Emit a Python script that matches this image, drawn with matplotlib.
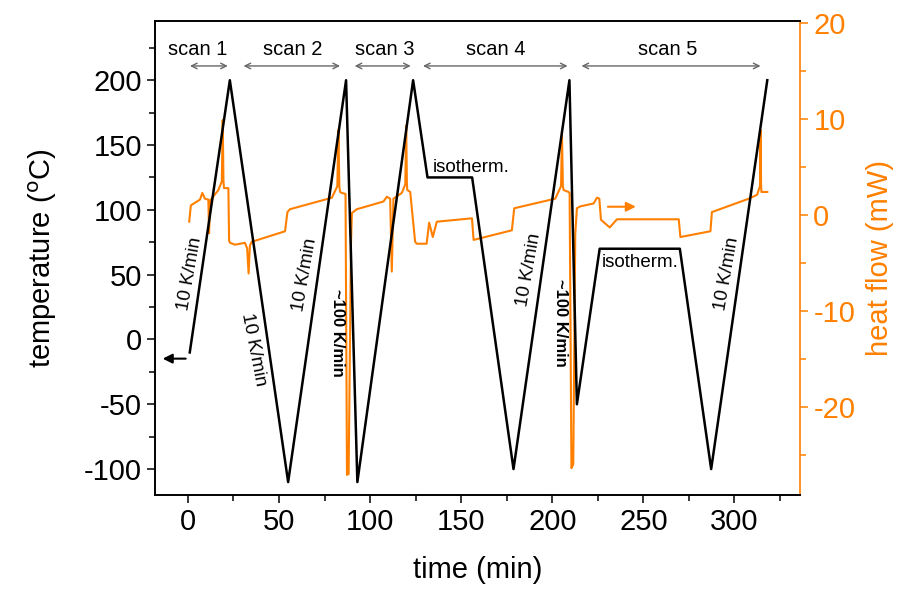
import matplotlib
matplotlib.use("Agg")
import matplotlib.pyplot as plt
from matplotlib.ticker import MultipleLocator

plt.rcParams['font.family'] = ['Liberation Sans', 'DejaVu Sans']
plt.rcParams['axes.unicode_minus'] = False

ORANGE = '#FF8000'

# temperature programme (black, left axis)
temp_time = [1, 23, 55, 86.8, 93, 123.6, 131.5, 156, 178.7, 209.4, 213.5, 226, 270, 287.2, 318]
temp_vals = [-10, 200, -110, 200, -110, 200, 125, 125, -100, 200, -50, 70, 70, -100, 200]

# heat flow (orange, right axis)
hf_time = [0.7, 1.6, 6.6, 7.9, 9.3, 11.2, 11.6, 12.1, 13, 16.7, 18.6, 19.1, 19.5, 19.8, 22.2,
           22.6, 23.1, 25.8, 31.3, 32.5, 33.3, 34, 35, 53.3, 54.6, 56, 79, 82, 82.6, 83.1,
           83.5, 84.4, 86.5, 87.3, 88.2, 89.5, 90, 92.7, 107.3, 109.2, 111, 111.9, 112.8,
           117.4, 119.3, 119.8, 120.2, 120.4, 122, 124.7, 125.6, 131, 132.4, 134.4, 136.6,
           155.9, 156.8, 177.8, 179.1, 201.6, 204.8, 205.3, 205.8, 206.2, 208.9, 209.5,
           210.5, 211.5, 212.6, 213.5, 215.4, 222.7, 224.5, 225.8, 226.7, 231.5, 235.5,
           269.4, 270.3, 286.8, 287.6, 307.9, 312.4, 314, 314.3, 314.6, 314.8, 318]
hf_vals = [-0.7, 1.0, 1.6, 2.3, 1.7, 1.6, -1.9, 1.5, 1.7, 2.6, 3.5, 9.9, 3.5, 2.8, 2.8,
           -2.7, -2.9, -3.1, -2.9, -3.5, -6.1, -3.2, -2.8, -1.7, 0.3, 0.6, 1.8, 3.0, 8.85, 3.0,
           2.4, 2.3, 2.2, -27.1, -27.0, -3.0, 0.2, 0.6, 1.4, 1.9, 1.7, -5.9, 1.7,
           2.3, 3.2, 9.3, 3.2, 2.6, 2.4, -2.8, -3.0, -3.0, -0.8, -2.3, -0.7,
           -0.35, -2.6, -1.6, 0.7, 1.7, 3.0, 8.7, 3.0, 2.6, 2.4, 2.3,
           -26.4, -26.0, -2.0, 0.7, 0.9, 1.2, 1.8, 1.7, -0.5, -1.3, -0.45,
           -0.45, -2.3, -1.7, 0.3, 1.7, 2.1, 3.0, 8.85, 3.0, 2.4, 2.4]

scan_labels = ['scan 1', 'scan 2', 'scan 3', 'scan 4', 'scan 5']
scan_text_t = [5.5, 57.4, 108, 169, 263.5]
scan_start = [-0.4, 29, 90, 127.5, 214.5]
scan_end = [23.4, 85, 123.8, 209.9, 315.8]

fig, ax = plt.subplots(figsize=(9.02, 5.9), dpi=100)
fig.subplots_adjust(left=0.172, right=0.887, bottom=0.161, top=0.964)
ax2 = ax.twinx()

ax.plot(temp_time, temp_vals, color='black', lw=1.8, zorder=3)
ax2.plot(hf_time, hf_vals, color=ORANGE, lw=1.5)
ax.set_zorder(ax2.get_zorder() + 1)
ax.patch.set_visible(False)

ax.set_xlim(-18, 336)
ax.set_ylim(-120, 245.5)
ax2.set_ylim(-29.2, 20.2)

ax.xaxis.set_major_locator(MultipleLocator(50))
ax.xaxis.set_minor_locator(MultipleLocator(25))
ax.yaxis.set_major_locator(MultipleLocator(50))
ax.yaxis.set_minor_locator(MultipleLocator(25))
ax2.yaxis.set_major_locator(MultipleLocator(10))
ax2.yaxis.set_minor_locator(MultipleLocator(5))

ax.tick_params(which='both', direction='out', labelsize=21, width=1.1)
ax.tick_params(which='major', length=6)
ax.tick_params(which='minor', length=4)
ax2.tick_params(which='both', direction='out', labelsize=21, width=1.1, colors=ORANGE)
ax2.tick_params(which='major', length=6)
ax2.tick_params(which='minor', length=4)

for s in ax.spines.values():
    s.set_linewidth(1.2)
for s in ax2.spines.values():
    s.set_linewidth(1.2)
ax2.spines['right'].set_color(ORANGE)
ax.spines['right'].set_visible(False)

ax.set_xlabel('time (min)', fontsize=21, labelpad=14)
ax.set_ylabel('temperature ($^{\\mathrm{o}}$C)', fontsize=21, labelpad=18)
ax2.set_ylabel('heat flow (mW)', fontsize=21, color=ORANGE, labelpad=8)

# scan ranges
for lab, tt, a, b in zip(scan_labels, scan_text_t, scan_start, scan_end):
    ax.annotate('', xy=(a, 211), xytext=(b, 211),
                arrowprops=dict(arrowstyle='<->', color='#666666', lw=1.0))
    ax.text(tt, 224, lab, fontsize=14.5, ha='center', va='center')

# rate annotations
ax.text(1.1, 51, '10 K/min', fontsize=13.5, rotation=80, ha='center', va='center')
ax.text(35.9, -8, '10 K/min', fontsize=13.5, rotation=-79, ha='center', va='center')
ax.text(64.3, 50, '10 K/min', fontsize=13.5, rotation=80, ha='center', va='center')
ax.text(82, 5, '~100 K/min', fontsize=12, fontweight='bold', rotation=-90, ha='center', va='center')
ax.text(155.7, 133, 'isotherm.', fontsize=13.5, ha='center', va='center')
ax.text(187, 54, '10 K/min', fontsize=13.5, rotation=80, ha='center', va='center')
ax.text(204.4, 13, '~100 K/min', fontsize=12, fontweight='bold', rotation=-90, ha='center', va='center')
ax.text(248.4, 59.5, 'isotherm.', fontsize=13.5, ha='center', va='center')
ax.text(296, 51, '10 K/min', fontsize=13.5, rotation=80, ha='center', va='center')

# axis pointers
ax.annotate('', xy=(-15.4, -14.8), xytext=(0.3, -14.8),
            arrowprops=dict(arrowstyle='-|>', color='black', lw=1.5, mutation_scale=14))
ax2.annotate('', xy=(247.4, 0.86), xytext=(229, 0.86),
             arrowprops=dict(arrowstyle='-|>', color=ORANGE, lw=1.5, mutation_scale=14))

fig.savefig('out.png', dpi=100)
